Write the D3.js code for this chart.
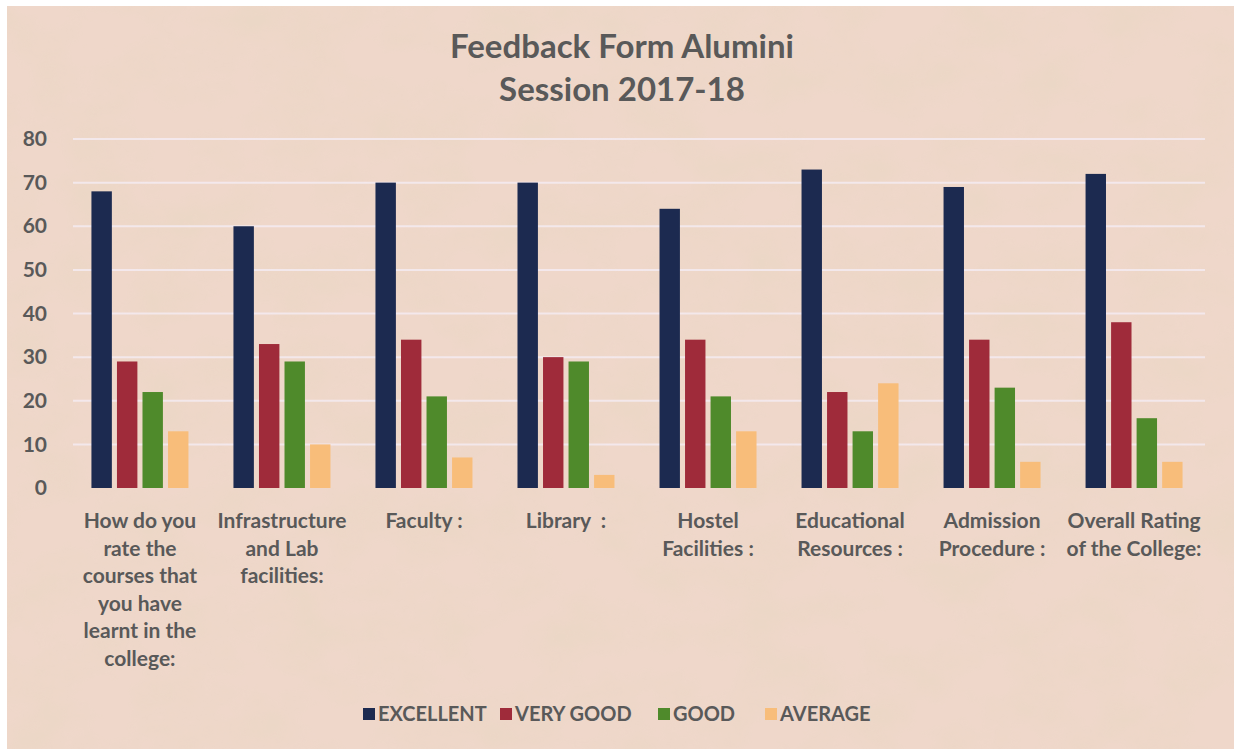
<!DOCTYPE html>
<html>
<head>
<meta charset="utf-8">
<script src="https://cdn.jsdelivr.net/npm/d3@7"></script>
<style>
  body { margin: 0; background: #fff; }
  svg { display: block; }
  text { font-family: Lato, "Open Sans", sans-serif; font-weight: bold; fill: #595959; }
</style>
</head>
<body>
<svg id="chart"></svg>
<script>
// chart data
var categories = [
  "How do you\nrate the\ncourses that\nyou have\nlearnt in the\ncollege:",
  "Infrastructure\nand Lab\nfacilities:",
  "Faculty :",
  "Library \u00a0:",
  "Hostel\nFacilities :",
  "Educational\nResources :",
  "Admission\nProcedure :",
  "Overall Rating\nof the College:"
];
var series = ["EXCELLENT", "VERY GOOD", "GOOD", "AVERAGE"];
var excellent = [68, 60, 70, 70, 64, 73, 69, 72];
var veryGood  = [29, 33, 34, 30, 34, 22, 34, 38];
var good      = [22, 29, 21, 29, 21, 13, 23, 16];
var average   = [13, 10, 7, 3, 13, 24, 6, 6];
var yTicks = [0, 10, 20, 30, 40, 50, 60, 70, 80];
var titleLines = ["Feedback Form Alumini", "Session 2017-18"];

var values = [excellent, veryGood, good, average];
var colors = ["#1c2a50", "#9f2b3a", "#4f8a2b", "#f8bd7a"];

var W = 1234, H = 749;
var svg = d3.select("#chart").attr("width", W).attr("height", H);

// parchment background
var defs = svg.append("defs");
var f = defs.append("filter").attr("id", "paper")
  .attr("x", 0).attr("y", 0).attr("width", "100%").attr("height", "100%");
f.append("feTurbulence").attr("type", "fractalNoise")
  .attr("baseFrequency", "0.015 0.02").attr("numOctaves", 5).attr("seed", 7)
  .attr("result", "noise");
f.append("feColorMatrix").attr("in", "noise").attr("type", "matrix")
  .attr("values", "0 0 0 0 0.82  0 0 0 0 0.68  0 0 0 0 0.55  0 0 0 -2.2 1.35")
  .attr("result", "blot");
f.append("feComposite").attr("in", "blot").attr("in2", "SourceGraphic").attr("operator", "in");

svg.append("rect").attr("x", 7).attr("y", 6).attr("width", W - 7).attr("height", H - 6)
  .attr("fill", "#efd7ca");
svg.append("rect").attr("x", 7).attr("y", 6).attr("width", W - 7).attr("height", H - 6)
  .attr("fill", "#efd7ca").attr("filter", "url(#paper)").attr("opacity", 0.6);

var margin = { left: 69, right: 29, top: 139, bottom: 261 };
var x0 = d3.scaleBand()
  .domain(d3.range(categories.length))
  .range([margin.left, W - margin.right])
  .paddingInner(0.317)
  .paddingOuter(0.158);
var x1 = d3.scaleBand()
  .domain(d3.range(series.length))
  .range([0, x0.bandwidth()])
  .paddingInner(0.2);
var y = d3.scaleLinear().domain([0, 80]).range([488, 139]);

// gridlines
svg.append("g")
  .selectAll("line")
  .data(yTicks.slice(1))
  .enter().append("line")
  .attr("x1", margin.left + 4)
  .attr("x2", W - margin.right)
  .attr("y1", function(d) { return y(d); })
  .attr("y2", function(d) { return y(d); })
  .attr("stroke", "#f5ecf2")
  .attr("stroke-width", 2)
  .attr("opacity", 0.85);

// y axis labels
var yAxis = svg.append("g")
  .attr("transform", "translate(" + (margin.left - 6) + ",0)")
  .call(d3.axisLeft(y).tickValues(yTicks).tickSize(0).tickPadding(16));
yAxis.select(".domain").remove();
yAxis.selectAll("text")
  .style("font-family", "Lato, sans-serif")
  .style("font-weight", "bold")
  .style("font-size", "21px")
  .attr("fill", "#595959");

// bars
var groups = svg.append("g")
  .selectAll("g")
  .data(categories)
  .enter().append("g")
  .attr("transform", function(d, i) { return "translate(" + x0(i) + ",0)"; });

groups.selectAll("rect")
  .data(function(d, i) { return values.map(function(v, s) { return { s: s, v: v[i] }; }); })
  .enter().append("rect")
  .attr("x", function(d) { return x1(d.s); })
  .attr("width", x1.bandwidth())
  .attr("y", function(d) { return y(d.v); })
  .attr("height", function(d) { return y(0) - y(d.v); })
  .attr("fill", function(d) { return colors[d.s]; });

// category labels
var xLabels = svg.append("g")
  .selectAll("text")
  .data(categories)
  .enter().append("text")
  .attr("text-anchor", "middle")
  .style("font-size", "21px")
  .attr("transform", function(d, i) { return "translate(" + (x0(i) + x0.bandwidth() / 2) + ",528)"; });
xLabels.selectAll("tspan")
  .data(function(d) { return d.split("\n"); })
  .enter().append("tspan")
  .attr("x", 0)
  .attr("dy", function(d, i) { return i ? 27.5 : 0; })
  .text(function(d) { return d; });

// title
svg.append("g")
  .selectAll("text")
  .data(titleLines)
  .enter().append("text")
  .attr("x", 622)
  .attr("y", function(d, i) { return 58 + i * 43; })
  .attr("text-anchor", "middle")
  .style("font-size", "33px")
  .text(function(d) { return d; });

// legend
var legendX = [363, 500, 658, 765];
var legend = svg.append("g")
  .selectAll("g")
  .data(series)
  .enter().append("g")
  .attr("transform", function(d, i) { return "translate(" + legendX[i] + ",708)"; });
legend.append("rect")
  .attr("width", 12).attr("height", 12)
  .attr("fill", function(d, i) { return colors[i]; });
legend.append("text")
  .attr("x", 15).attr("y", 13)
  .style("font-size", "20px")
  .text(function(d) { return d; });
</script>
</body>
</html>
